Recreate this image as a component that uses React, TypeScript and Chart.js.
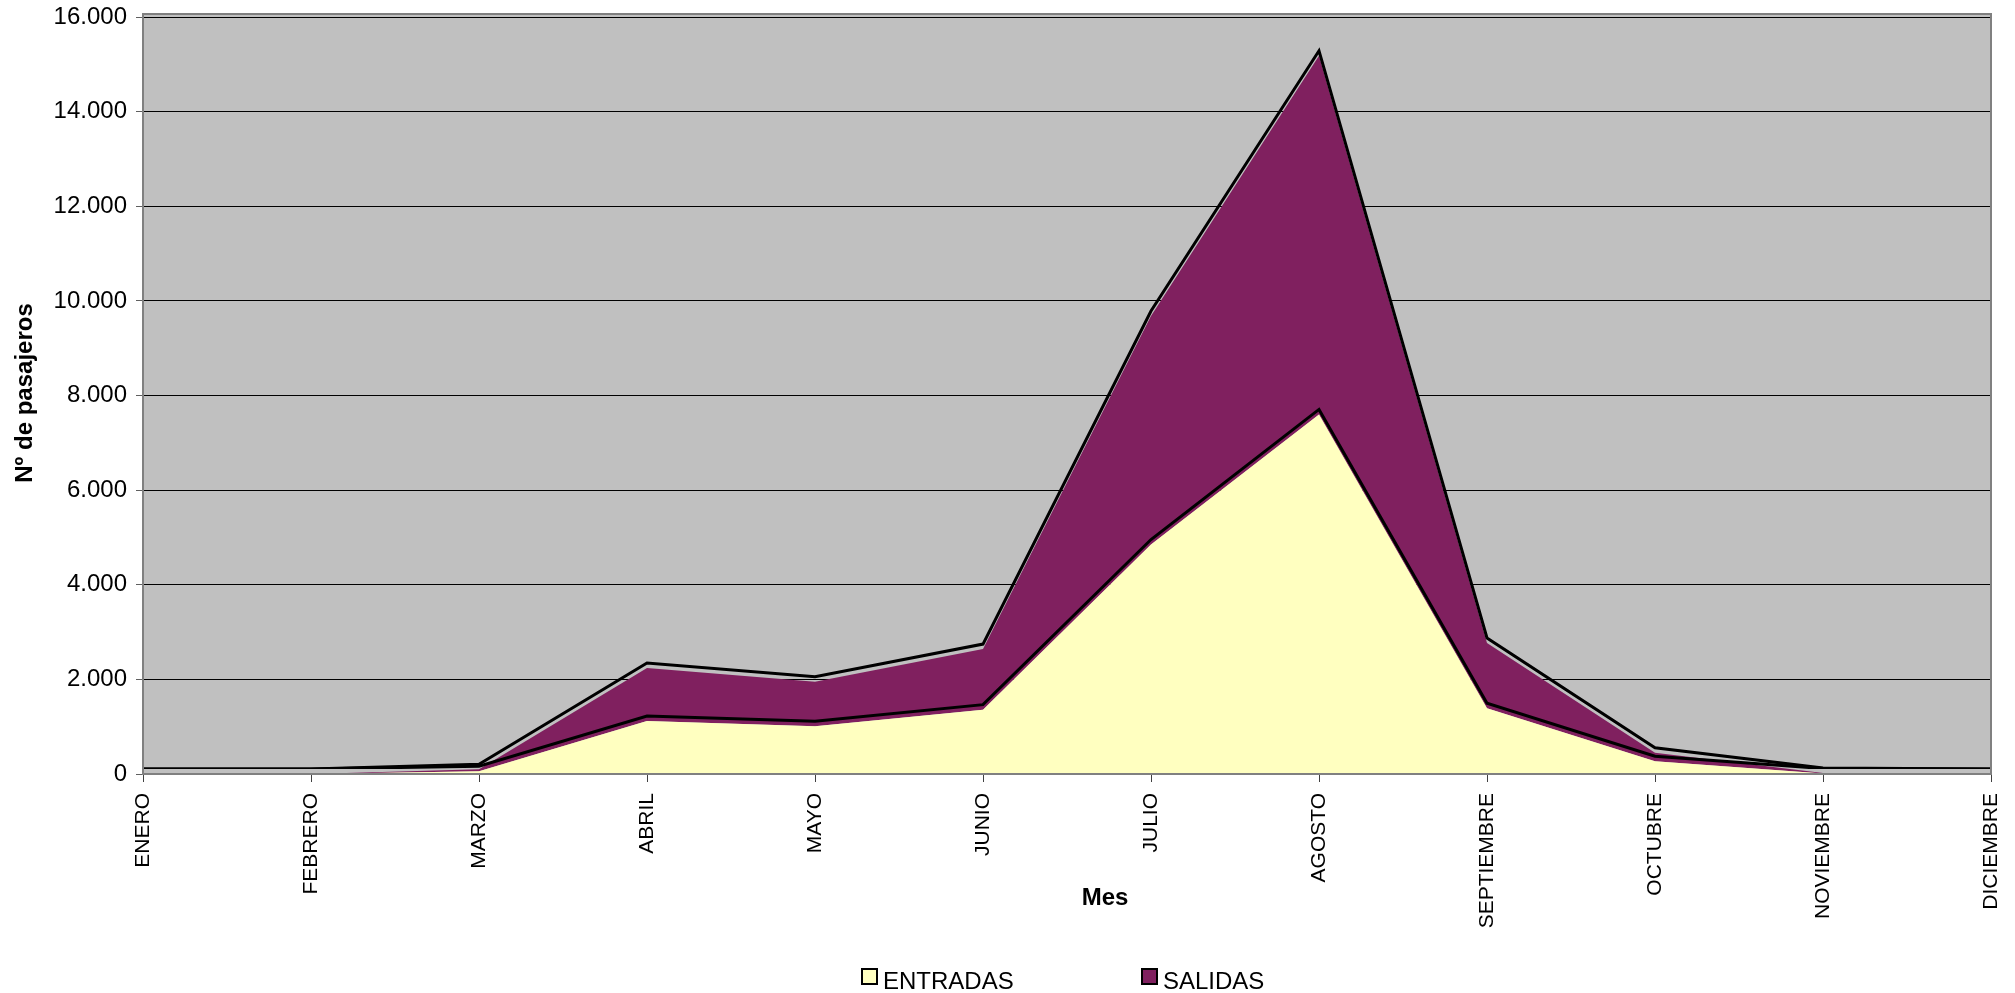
import React, { useEffect, useRef } from "react";
import { Chart, registerables } from "chart.js";

Chart.register(...registerables);

const MONTHS = [
  "ENERO", "FEBRERO", "MARZO", "ABRIL", "MAYO", "JUNIO",
  "JULIO", "AGOSTO", "SEPTIEMBRE", "OCTUBRE", "NOVIEMBRE", "DICIEMBRE",
];
const ENTRADAS = [0, 0, 60, 1120, 1010, 1360, 4850, 7600, 1390, 270, 10, 0];
const SALIDAS = [0, 0, 40, 1120, 940, 1280, 4830, 7580, 1380, 180, 10, 0];
const SERIES_NAMES = ["ENTRADAS", "SALIDAS"];
const SERIES_COLORS = ["#FFFFC0", "#80205F"];
const Y_MAX = 16000;
const Y_STEP = 2000;
const Y_TITLE = "Nº de pasajeros";
const X_TITLE = "Mes";

const W = 2015;
const H = 993;
const FONT = "'Liberation Sans', Arial, sans-serif";

function fmt(v: number): string {
  const s = Math.round(v).toString();
  return s.replace(/\B(?=(\d{3})+(?!\d))/g, ".");
}

const plotBg = {
  id: "plotBg",
  beforeDraw(chart: any) {
    const { ctx, chartArea: a } = chart;
    ctx.save();
    ctx.fillStyle = "#C0C0C0";
    ctx.fillRect(a.left, a.top - 3, a.right - a.left, a.bottom - a.top + 3);
    ctx.restore();
  },
  afterDatasetsDraw(chart: any) {
    const { ctx, chartArea: a } = chart;
    ctx.save();
    ctx.strokeStyle = "#808080";
    ctx.lineWidth = 2;
    ctx.strokeRect(a.left, a.top - 3, a.right - a.left, a.bottom - a.top + 3);
    ctx.restore();
  },
};

const offsetLines = {
  id: "offsetLines",
  beforeDatasetDraw(chart: any) {
    chart.ctx.save();
    chart.ctx.translate(0, -5);
  },
  afterDatasetDraw(chart: any) {
    chart.ctx.restore();
  },
};

const extras = {
  id: "extras",
  afterDraw(chart: any) {
    const { ctx } = chart;
    ctx.save();
    ctx.fillStyle = "#000";
    // axis titles
    ctx.font = `bold 24px ${FONT}`;
    ctx.textAlign = "center";
    ctx.textBaseline = "middle";
    ctx.save();
    ctx.translate(25, 393);
    ctx.rotate(-Math.PI / 2);
    ctx.fillText(Y_TITLE, 0, 0);
    ctx.restore();
    ctx.font = `bold 24px ${FONT}`;
    ctx.fillText(X_TITLE, 1105, 898);
    // legend
    const boxes = [862, 1142];
    ctx.font = `24px ${FONT}`;
    ctx.textAlign = "left";
    ctx.textBaseline = "alphabetic";
    SERIES_NAMES.forEach((name, i) => {
      const bx = boxes[i];
      ctx.fillStyle = SERIES_COLORS[i];
      ctx.fillRect(bx, 969, 15, 15);
      ctx.strokeStyle = "#000";
      ctx.lineWidth = 2;
      ctx.strokeRect(bx, 969, 15, 15);
      ctx.fillStyle = "#000";
      ctx.fillText(name, bx + 21, 989);
    });
    ctx.restore();
  },
};

export default function App() {
  const ref = useRef<HTMLCanvasElement | null>(null);

  useEffect(() => {
    document.body.style.margin = "0";
    const canvas = ref.current;
    if (!canvas) return;
    const chart = new Chart(canvas, {
      type: "line",
      data: {
        labels: MONTHS,
        datasets: [
          {
            label: SERIES_NAMES[0],
            data: ENTRADAS,
            backgroundColor: SERIES_COLORS[0],
            borderColor: "#000",
            borderWidth: 3,
            fill: "origin",
            pointRadius: 0,
            tension: 0,
          },
          {
            label: SERIES_NAMES[1],
            data: SALIDAS,
            backgroundColor: SERIES_COLORS[1],
            borderColor: "#000",
            borderWidth: 3,
            fill: "-1",
            pointRadius: 0,
            tension: 0,
          },
        ],
      },
      options: {
        responsive: false,
        animation: false,
        devicePixelRatio: 1,
        layout: { padding: { left: 0, right: 24, top: 17, bottom: 0 } },
        plugins: {
          legend: { display: false },
          tooltip: { enabled: false },
          filler: { propagate: false },
        },
        scales: {
          x: {
            type: "category",
            offset: false,
            border: { display: false },
            grid: {
              drawOnChartArea: false,
              drawTicks: true,
              tickLength: 8,
              tickColor: "#404040",
              lineWidth: 1,
            },
            ticks: {
              autoSkip: false,
              maxRotation: 90,
              minRotation: 90,
              padding: 11,
              color: "#000",
              font: { family: FONT, size: 21 },
            },
            afterFit(scale: any) {
              scale.height = H - 774;
              scale.paddingLeft = 0;
              scale.paddingRight = 0;
            },
          },
          y: {
            stacked: true,
            min: 0,
            max: Y_MAX,
            border: { display: false },
            grid: {
              color: "#000",
              lineWidth: 1,
              drawTicks: true,
              tickLength: 7,
              tickColor: "#606060",
            },
            ticks: {
              stepSize: Y_STEP,
              padding: 9,
              color: "#000",
              font: { family: FONT, size: 24 },
              callback: (v: any) => fmt(Number(v)),
            },
            afterFit(scale: any) {
              scale.width = 143;
              scale.paddingTop = 0;
              scale.paddingBottom = 0;
            },
          },
        },
      },
      plugins: [plotBg, offsetLines, extras],
    });
    return () => chart.destroy();
  }, []);

  return (
    <div style={{ position: "fixed", left: 0, top: 0, width: W, height: H, background: "#fff" }}>
      <canvas ref={ref} width={W} height={H} style={{ display: "block", width: W, height: H }} />
    </div>
  );
}
